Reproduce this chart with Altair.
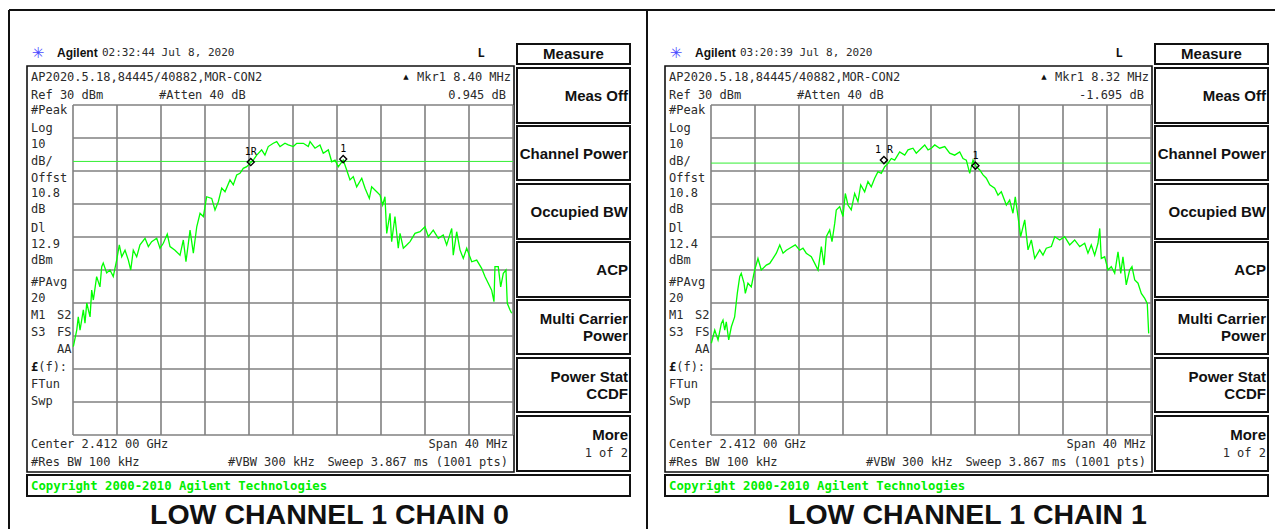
import altair as alt
import pandas as pd

# ---------------- data ----------------
# frequency offset from centre (MHz), trace level (dBm)
freq_chain0 = [-19.97, -19.66, -19.52, -19.36, -19.06, -18.91, -18.75, -18.45, -18.30, -18.15,
               -17.85, -17.55, -17.39, -17.25, -16.94, -16.64, -16.34, -16.03, -15.79, -15.57,
               -15.27, -14.97, -14.75, -14.52, -14.21, -13.91, -13.45, -13.15, -12.85, -12.39,
               -12.09, -11.79, -11.43, -11.18, -10.73, -10.27, -9.97, -9.73, -9.36, -9.06,
               -8.75, -8.45, -8.15, -7.85, -7.39, -7.09, -6.79, -6.48, -6.18, -5.73,
               -5.43, -5.12, -4.82, -4.52, -4.21, -3.91, -3.61, -3.30, -2.85, -2.55,
               -2.25, -1.79, -1.48, -1.18, -0.73, -0.43, 0.03, 0.34, 0.94, 1.39,
               1.55, 2.00, 2.45, 2.75, 3.21, 3.52, 3.82, 4.12, 4.57, 4.88,
               5.18, 5.48, 5.79, 6.25, 6.55, 6.94, 7.15, 7.61, 7.91, 8.15,
               8.36, 8.52, 8.82, 8.97, 9.27, 9.57, 9.73, 10.03, 10.34, 10.64,
               11.09, 11.55, 12.00, 12.30, 12.75, 13.21, 13.66, 13.97, 14.43, 14.57,
               14.88, 15.18, 15.48, 15.79, 16.25, 16.70, 17.15, 17.45, 17.75, 18.06,
               18.27, 18.36, 18.66, 18.88, 19.12, 19.36, 19.48, 19.73, 19.88]
level_chain0 = [-43.2, -38.2, -34.2, -38.2, -32.1, -36.1, -30.0, -34.2, -26.1, -29.1,
                -22.0, -25.1, -19.0, -17.9, -20.9, -20.0, -22.0, -17.0, -12.4, -16.0,
                -14.0, -17.0, -20.0, -14.0, -16.0, -12.4, -10.4, -12.9, -11.4, -10.4,
                -13.4, -11.9, -9.1, -12.9, -14.0, -15.5, -10.9, -17.5, -7.9, -14.9,
                -6.9, -2.8, -3.8, 2.2, 1.7, -1.8, 0.7, 4.8, 3.7, 7.3,
                5.8, 8.8, 9.3, 10.8, 11.3, 12.3, 13.3, 14.8, 16.4, 14.8,
                17.4, 18.4, 18.9, 17.4, 18.4, 17.9, 17.4, 18.4, 18.4, 17.4,
                18.9, 16.9, 17.9, 15.4, 16.4, 12.8, 13.3, 11.3, 13.3, 10.3,
                7.3, 8.3, 5.2, 7.8, 4.8, 1.7, 5.2, 3.7, 2.7, -0.3,
                2.2, -8.9, -2.8, -11.4, -3.8, -13.4, -8.9, -13.4, -12.4, -11.4,
                -8.9, -8.4, -6.9, -9.9, -7.9, -10.4, -9.4, -12.4, -7.4, -15.5,
                -8.4, -13.9, -16.5, -13.4, -17.5, -17.0, -19.5, -22.0, -24.0, -26.1,
                -29.6, -19.0, -19.0, -25.1, -21.0, -20.0, -30.1, -32.1, -33.1]

freq_chain1 = [-19.97, -19.66, -19.36, -19.06, -18.91, -18.75, -18.61, -18.39, -18.15, -17.85,
               -17.61, -17.39, -17.25, -17.00, -16.88, -16.64, -16.34, -16.03, -15.73, -15.43,
               -14.97, -14.66, -14.36, -14.06, -13.75, -13.45, -13.15, -12.85, -12.34, -11.94,
               -11.64, -11.34, -10.88, -10.57, -10.27, -9.97, -9.73, -9.52, -9.21, -9.00,
               -8.75, -8.61, -8.30, -8.00, -7.79, -7.55, -7.25, -6.94, -6.64, -6.39,
               -6.03, -5.73, -5.43, -5.12, -4.82, -4.52, -4.21, -3.91, -3.61, -3.30,
               -2.85, -2.39, -2.09, -1.64, -1.34, -0.88, -0.57, -0.27, 0.03, 0.34,
               0.79, 1.25, 1.70, 2.15, 2.61, 2.91, 3.21, 3.52, 3.82, 4.12,
               4.43, 4.73, 5.03, 5.34, 5.79, 6.09, 6.39, 6.85, 7.15, 7.45,
               7.66, 7.91, 8.15, 8.52, 8.82, 9.12, 9.43, 9.88, 10.18, 10.48,
               10.94, 11.25, 11.70, 12.15, 12.61, 13.06, 13.52, 13.97, 14.27, 14.57,
               14.88, 15.18, 15.34, 15.48, 15.79, 16.09, 16.39, 16.70, 17.00, 17.25,
               17.45, 17.75, 18.06, 18.27, 18.52, 18.82, 19.12, 19.43, 19.66, 19.79]
level_chain1 = [-42.2, -38.2, -41.2, -36.2, -35.2, -38.2, -35.7, -41.2, -37.2, -34.2,
                -27.1, -22.0, -21.0, -24.0, -27.1, -24.0, -25.1, -20.0, -16.5, -20.0,
                -18.5, -18.0, -16.5, -14.9, -12.4, -14.9, -14.0, -13.4, -12.4, -14.0,
                -13.4, -14.9, -16.0, -18.0, -20.0, -12.9, -18.5, -9.9, -7.9, -11.4,
                -5.8, -1.8, -0.8, -3.8, 3.2, -0.3, -1.8, 3.2, 0.7, 5.8,
                3.7, 6.8, 5.2, 7.8, 9.8, 9.3, 11.3, 12.3, 13.8, 13.3,
                15.8, 14.8, 16.4, 16.9, 15.4, 16.9, 17.9, 16.4, 16.9, 17.9,
                16.9, 17.4, 15.4, 14.8, 15.8, 13.8, 13.3, 9.3, 13.3, 11.3,
                10.3, 8.8, 7.8, 5.8, 4.8, 2.7, 3.7, -0.3, 1.2, -2.8,
                2.2, -3.8, -9.9, -4.8, -13.9, -10.9, -16.5, -13.9, -15.5, -13.4,
                -12.9, -9.9, -10.9, -9.9, -12.4, -10.9, -12.9, -11.9, -14.9, -12.4,
                -15.5, -11.9, -7.4, -16.5, -16.0, -20.0, -19.0, -21.0, -14.5, -21.0,
                -16.0, -24.5, -20.0, -19.0, -23.0, -24.0, -27.1, -28.6, -30.1, -39.2]

span = [-20, 20]
grid_freqs = [-20, -16, -12, -8, -4, 0, 4, 8, 12, 16, 20]
grid_levels = [-70, -60, -50, -40, -30, -20, -10, 0, 10, 20, 30]

panels = [
    dict(freq=freq_chain0, level=level_chain0, time="02:32:44  Jul 8, 2020",
         mkr="Mkr1  8.40 MHz", delta="0.945 dB", dl=12.9, dl_text="12.9",
         mk_f=[-3.84, 4.56], mk_db=[12.7, 13.6], mk_label=["1R", "1"],
         title="LOW CHANNEL 1 CHAIN 0"),
    dict(freq=freq_chain1, level=level_chain1, time="03:20:39  Jul 8, 2020",
         mkr="Mkr1  8.32 MHz", delta="-1.695 dB", dl=12.4, dl_text="12.4",
         mk_f=[-4.28, 4.04], mk_db=[13.3, 11.6], mk_label=["1 R", "1"],
         title="LOW CHANNEL 1 CHAIN 1"),
]

# ---------------- styling / layout ----------------
MONO = "DejaVu Sans Mono"
SANS = "Liberation Sans"
TXT = "#2b2b2b"
GRID = "#808080"
GREEN = "#00ff00"
GW, GH = 440, 330          # one graticule
PANEL_STEP = 638           # distance between the two graticules
TOTAL_W = GW + PANEL_STEP  # plot area spanning both graticules
PX_PER_MHZ = GW / 40.0

ONE = alt.Data(values=[{"k": 0}])
yscale = alt.Scale(domain=[-70, 30], nice=False, zero=False)


def txt(s, x, y, size=12, font=MONO, weight="normal", align="left", color=TXT, baseline="middle"):
    return alt.Chart(ONE).mark_text(
        font=font, fontSize=size, fontWeight=weight, align=align, baseline=baseline, color=color
    ).encode(x=alt.value(x), y=alt.value(y), text=alt.value(s))


def box(x1, x2, y1, y2, sw=2, color="#111111"):
    return alt.Chart(ONE).mark_rect(fillOpacity=0, stroke=color, strokeWidth=sw).encode(
        x=alt.value(x1), x2=alt.value(x2), y=alt.value(y1), y2=alt.value(y2))


def hline(x1, x2, y, sw=2, color="#111111"):
    return alt.Chart(ONE).mark_rule(stroke=color, strokeWidth=sw).encode(
        x=alt.value(x1), x2=alt.value(x2), y=alt.value(y))


def vline(x, y1, y2, sw=2, color="#111111"):
    return alt.Chart(ONE).mark_rule(stroke=color, strokeWidth=sw).encode(
        x=alt.value(x), y=alt.value(y1), y2=alt.value(y2))


def panel(p, idx):
    o = idx * PANEL_STEP
    lo = span[0] - o / PX_PER_MHZ
    xscale = alt.Scale(domain=[lo, lo + TOTAL_W / PX_PER_MHZ], nice=False, zero=False)
    X = lambda f: alt.X(f, scale=xscale, axis=None)
    Y = lambda f: alt.Y(f, scale=yscale, axis=None)
    layers = []
    # outer frame
    if idx == 0:
        layers.append(hline(-64, 574, -95))
        layers.append(vline(-64, -95, 430))
        layers.append(vline(574, -95, 430))
    else:
        layers.append(hline(o - 64, o + 566, -95))
    # screen frame
    layers.append(box(o - 46, o + 441, -39, 367, sw=1.6))
    # graticule
    layers.append(alt.Chart(pd.DataFrame({"f": grid_freqs})).mark_rule(
        color=GRID, strokeWidth=1.6).encode(x=X("f:Q")))
    gl = pd.DataFrame({"dBm": grid_levels, "f": span[0], "f2": span[1]})
    layers.append(alt.Chart(gl).mark_rule(color=GRID, strokeWidth=1.6).encode(
        y=Y("dBm:Q"), x=X("f:Q"), x2="f2:Q"))
    # display line
    dl = pd.DataFrame({"dBm": [p["dl"]], "f": [span[0]], "f2": [span[1]]})
    layers.append(alt.Chart(dl).mark_rule(color="#33ee33", strokeWidth=1).encode(
        y=Y("dBm:Q"), x=X("f:Q"), x2="f2:Q"))
    # trace
    df = pd.DataFrame({"f": p["freq"], "dBm": p["level"]})
    layers.append(alt.Chart(df).mark_line(color=GREEN, strokeWidth=1.3).encode(
        x=X("f:Q"), y=Y("dBm:Q")))
    # markers
    mk = pd.DataFrame({"f": p["mk_f"], "dBm": p["mk_db"], "lab": p["mk_label"]})
    layers.append(alt.Chart(mk).mark_point(shape="diamond", filled=False, color="black",
                                           size=50, strokeWidth=1.4, opacity=1).encode(
        x=X("f:Q"), y=Y("dBm:Q")))
    layers.append(alt.Chart(mk).mark_text(font=MONO, fontSize=10, color="black", dy=-10).encode(
        x=X("f:Q"), y=Y("dBm:Q"), text="lab:N"))

    # header
    layers.append(txt("\u2733", o - 35, -52, size=15, font="DejaVu Sans", color="#4a4aff",
                      align="center"))
    layers.append(txt("Agilent", o - 16, -52, size=12, font=SANS, weight="bold", color="#111"))
    layers.append(txt(p["time"], o + 29, -52, size=11))
    layers.append(txt("L", o + 408, -52, size=12, weight="bold", align="center", color="#111"))
    layers.append(txt("AP2020.5.18,84445/40882,MOR-CON2", o - 42, -28))
    layers.append(txt("\u25b2", o + 333, -28, size=7, font="DejaVu Sans", align="center", color="#111"))
    layers.append(txt(p["mkr"], o + 438, -28, align="right"))
    layers.append(txt("Ref 30 dBm", o - 42, -10))
    layers.append(txt("#Atten 40 dB", o + 86, -10))
    layers.append(txt(p["delta"], o + 433, -10, align="right"))

    # left annotation column
    col = [("#Peak", 5), ("Log", 23), ("10", 39), ("dB/", 56), ("Offst", 73), ("10.8", 88),
           ("dB", 104), ("Dl", 123), (p["dl_text"], 139), ("dBm", 155), ("#PAvg", 177),
           ("20", 193), ("M1", 210), ("S3", 227), ("FTun", 279), ("Swp", 296)]
    for s, y in col:
        layers.append(txt(s, o - 42, y))
    layers.append(txt("\u00a3", o - 42, 262, weight="bold", color="#111"))
    layers.append(txt("(f):", o - 34.8, 262))
    for s, y in [("S2", 210), ("FS", 227), ("AA", 244)]:
        layers.append(txt(s, o - 1.5, y, align="right"))

    # bottom annotation
    layers.append(txt("Center 2.412 00 GHz", o - 42, 339))
    layers.append(txt("Span 40 MHz", o + 435, 339, align="right"))
    layers.append(txt("#Res BW 100 kHz", o - 42, 357))
    layers.append(txt("#VBW 300 kHz", o + 155, 357))
    layers.append(txt("Sweep 3.867 ms (1001 pts)", o + 435, 357, align="right"))

    # copyright bar
    layers.append(box(o - 46, o + 557, 370, 391))
    layers.append(txt("Copyright 2000-2010 Agilent Technologies", o - 42, 381, size=12.3,
                      weight="bold", color="#00ee00"))

    # soft keys
    keys = [(-61, -41), (-37, 18), (21, 75), (79, 134), (137, 192), (195, 249), (253, 307), (311, 366)]
    for y1, y2 in keys:
        layers.append(box(o + 444, o + 557, y1, y2))
    layers.append(txt("Measure", o + 500.5, -51, size=15, font=SANS, weight="bold",
                      align="center", color="#111"))
    for s, y in [("Meas Off", -9), ("Channel Power", 48.5), ("Occupied BW", 107), ("ACP", 164.5),
                 ("Multi Carrier", 213.5), ("Power", 230.5), ("Power Stat", 271.5), ("CCDF", 289),
                 ("More", 330)]:
        layers.append(txt(s, o + 555, y, size=15, font=SANS, weight="bold", align="right", color="#111"))
    layers.append(txt("1 of 2", o + 555, 347.5, align="right"))

    # caption
    layers.append(txt(p["title"], o + 256.5, 419, size=28.5, font=SANS, weight="bold",
                      align="center", baseline="alphabetic", color="#111"))

    return alt.layer(*layers)


chart = alt.layer(panel(panels[0], 0), panel(panels[1], 1)).resolve_scale(
    x="independent", y="shared"
).properties(
    width=TOTAL_W, height=GH,
    autosize=alt.AutoSizeParams(type="none"),
    padding={"left": 65, "top": 97, "right": 124, "bottom": 94},
).configure_view(stroke=None)

chart.save("out.html", embed_options={"renderer": "svg", "actions": False})
